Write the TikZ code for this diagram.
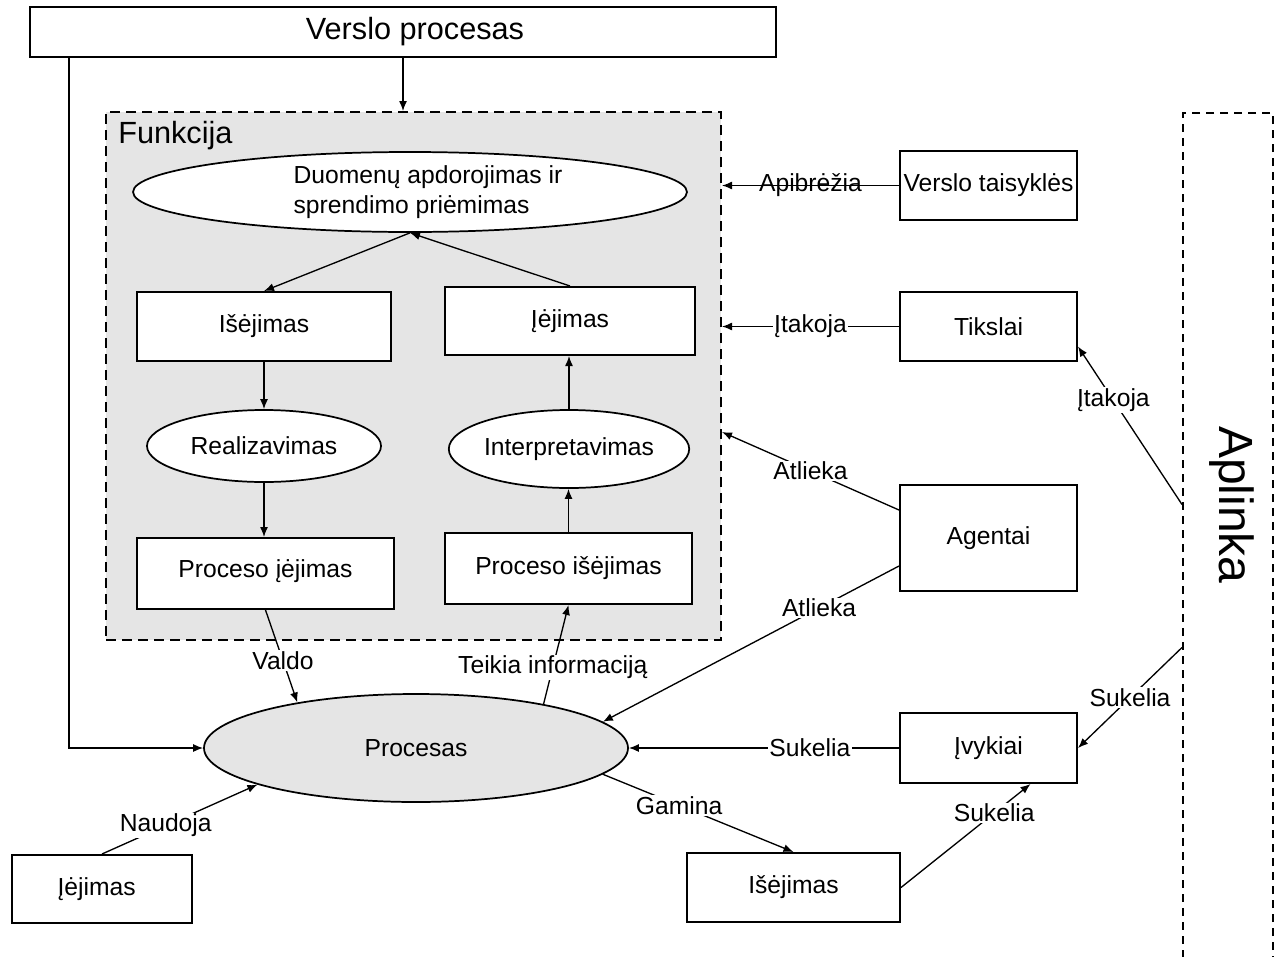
\documentclass[tikz,border=0pt]{standalone}
\usepackage{fontspec}
\setmainfont{Liberation Sans}
\usetikzlibrary{arrows.meta,calc,shapes.geometric}
\begin{document}
\begin{tikzpicture}[x=0.75pt,y=-0.75pt,
  dim/.style 2 args={minimum width=#1*0.75pt,minimum height=#2*0.75pt},
  box/.style={draw,line width=1.5pt,fill=white,inner sep=0pt,font=\fontsize{18.5}{22}\selectfont},
  oval/.style={draw,ellipse,line width=1.3pt,fill=white,inner sep=0pt,font=\fontsize{18.5}{22}\selectfont},
  dashframe/.style={draw,dash pattern=on 7.5pt off 4.5pt,line width=1.5pt},
  conn/.style={line width=1pt,-{Latex[length=7.5pt,width=6pt]}},
  lbl/.style={font=\fontsize{18.5}{22}\selectfont,inner sep=1pt},
  gap/.style={lbl,fill=white},
]
\useasboundingbox (0,0) rectangle (1279,957);
\fill[white] (0,0) rectangle (1279,957);

% top-level process
\node[box,dim={746}{50},font=\fontsize{23}{26}\selectfont] (vp) at (403,32) {\hspace*{18pt}Verslo procesas};

% function frame
\node[dashframe,fill=black!10,dim={615}{528}] (func) at (413.5,376) {};
\node[anchor=west,font=\fontsize{23}{26}\selectfont,inner sep=0pt] (funclbl) at (118,136) {Funkcija};

% inside the function
\node[oval,dim={554}{80},align=left] (duom) at (410,192) {\hspace*{27pt}Duomenų apdorojimas ir\\\hspace*{27pt}sprendimo priėmimas};
\node[box,dim={254}{69}] (isej1) at (264,326.5) {Išėjimas};
\node[box,dim={250}{68}] (iej1) at (570,321) {Įėjimas};
\node[oval,dim={234}{72}] (real) at (264,446) {Realizavimas};
\node[oval,dim={236}{78}] (interp) at (569,449) {Interpretavimas};
\node[box,dim={257}{71}] (pi) at (265.5,573.5) {\raisebox{7pt}{Proceso įėjimas}};
\node[box,dim={247}{71}] (pe) at (568.5,568.5) {\raisebox{4pt}{Proceso išėjimas}};

% process
\node[oval,fill=black!10,dim={424}{108}] (proc) at (416,748) {Procesas};

% surrounding elements
\node[box,dim={177}{69}] (vt) at (988.5,185.5) {Verslo taisyklės};
\node[box,dim={177}{69}] (tik) at (988.5,326.5) {Tikslai};
\node[box,dim={177}{106}] (ag) at (988.5,538) {\raisebox{3pt}{Agentai}};
\node[box,dim={177}{70}] (ivy) at (988.5,748) {Įvykiai};
\node[box,dim={213}{69}] (isej2) at (793.5,887.5) {Išėjimas};
\node[box,dim={180}{68}] (iej2) at (102,889) {\hspace*{-8pt}Įėjimas};

% environment
\node[dashframe,dash pattern=on 6pt off 4.5pt,dim={90}{887}] (apl) at (1228,556.5) {};
\node[rotate=-90,font=\fontsize{36}{40}\selectfont] (apllbl) at (1232,505) {Aplinka};

% connectors
\draw[conn] (vp.south) -- (vp.south |- func.north);
\draw[conn] ($(vp.south west)+(40,0)$) |- (proc.west);

\draw[conn] (duom.south) -- (isej1.north);
\draw[conn] (iej1.north) -- (duom.south);
\draw[conn] (isej1.south) -- (real.north);
\draw[conn] (real.south) -- (real.south |- pi.north);
\draw[conn] (pe.north) -- (pe.north |- interp.south);
\draw[conn] (interp.north) -- (interp.north |- iej1.south);

\draw[conn] (pi.south) -- node[gap,pos=0.55] {Valdo} (proc.159);
\draw[conn] (proc.19) -- node[gap,pos=0.37] {Teikia informaciją} (pe.south);

\draw[conn] (vt.west) -- node[lbl] {Apibrėžia} (vt.west -| func.east);
\draw[conn] (tik.west) -- node[gap] {Įtakoja} (tik.west -| func.east);
\draw[conn] ($(ag.west)+(0,-28)$) -- node[gap] {Atlieka} ($(func.east)+(0,56)$);
\draw[conn] ($(ag.west)+(0,28)$) -- node[gap,pos=0.27] {Atlieka} (proc.8);
\draw[conn] (ivy.west) -- node[gap,pos=0.33] {Sukelia} (proc.east);

\draw[conn] ($(apl.west)+(0,91)$) -- node[gap] {Sukelia} (ivy.east);
\draw[conn] ($(apl.west)+(0,-52)$) -- node[gap,pos=0.66] {Įtakoja} ($(tik.east)+(0,20)$);

\draw[conn] (proc.-8) -- node[gap,pos=0.4] {Gamina} (isej2.north);
\draw[conn] (isej2.east) -- node[gap,pos=0.72] {Sukelia} ($(ivy.south)+(42,0)$);
\draw[conn] (iej2.north) -- node[gap,pos=0.41] {Naudoja} (proc.193);
\end{tikzpicture}
\end{document}
